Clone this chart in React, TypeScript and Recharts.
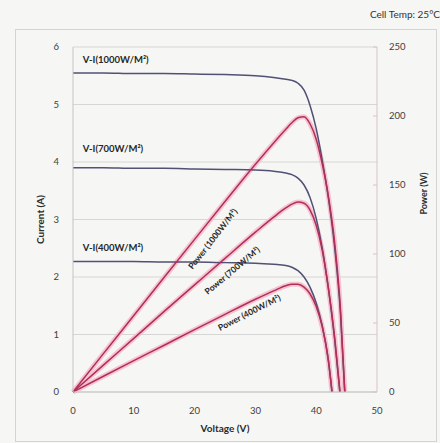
import React from 'react';
import { ComposedChart, Line, XAxis, YAxis, CartesianGrid, ReferenceDot, Label } from 'recharts';

const FONT = 'Lato, "Liberation Sans", sans-serif';

// axis ticks
const voltageTicks = [0, 10, 20, 30, 40, 50];
const currentTicks = [0, 1, 2, 3, 4, 5, 6];
const powerTicks = [0, 50, 100, 150, 200, 250];

// 1000 W/m2
const volts1000 = [0, 5, 10, 15, 20, 25, 30, 33, 35, 36, 37, 38, 39, 40, 41, 42, 43, 44, 44.7];
const amps1000 = [5.55, 5.55, 5.54, 5.54, 5.53, 5.52, 5.5, 5.47, 5.44, 5.42, 5.37, 5.25, 4.98, 4.58, 4.03, 3.38, 2.55, 1.35, 0];
const watts1000 = [0, 27.8, 55.4, 83.1, 110.6, 138, 165, 180.5, 190.4, 195.1, 198.7, 199.5, 194.2, 183.2, 165.2, 142, 109.7, 59.4, 0];

// 700 W/m2
const volts700 = [0, 5, 10, 15, 20, 25, 30, 33, 35, 36, 37, 38, 39, 40, 41, 42, 43, 43.9];
const amps700 = [3.9, 3.9, 3.89, 3.89, 3.88, 3.87, 3.86, 3.84, 3.81, 3.78, 3.72, 3.6, 3.38, 3.02, 2.5, 1.8, 0.95, 0];
const watts700 = [0, 19.5, 38.9, 58.4, 77.6, 96.8, 115.8, 126.7, 133.4, 136.1, 137.6, 136.8, 131.8, 120.8, 102.5, 75.6, 40.9, 0];

// 400 W/m2
const volts400 = [0, 5, 10, 15, 20, 25, 30, 33, 35, 36, 37, 38, 39, 40, 41, 42, 42.6];
const amps400 = [2.27, 2.27, 2.27, 2.26, 2.26, 2.25, 2.24, 2.22, 2.2, 2.17, 2.11, 2.0, 1.82, 1.55, 1.15, 0.55, 0];
const watts400 = [0, 11.4, 22.7, 33.9, 45.2, 56.3, 67.2, 73.3, 77, 78.1, 78.1, 76, 71, 62, 47.2, 23.1, 0];

const toRows = (v: number[], i: number[], p: number[]) => v.map((x, k) => ({ v: x, i: i[k], p: p[k] }));

const rows1000 = toRows(volts1000, amps1000, watts1000);
const rows700 = toRows(volts700, amps700, watts700);
const rows400 = toRows(volts400, amps400, watts400);

const CURRENT_COLOR = '#505174';
const POWER_COLOR = '#b02f5a';
const GLOW_COLOR = '#f6c3d0';

const curveLabel = (text: string, angle: number, anchor: 'start' | 'middle', size: number) => (props: any) => {
  const vb = props.viewBox || {};
  const x = (vb.x ?? 0) + (vb.width ?? 0) / 2;
  const y = (vb.y ?? 0) + (vb.height ?? 0) / 2;
  return (
    <text x={x} y={y} transform={`rotate(${angle} ${x} ${y})`} textAnchor={anchor} dominantBaseline="central"
      fontSize={size} fontWeight={700} fill="#262626" fontFamily={FONT}>
      {text}
    </text>
  );
};

const tickStyle = { fontSize: 9.5, fill: '#404040', fontFamily: FONT };

export default function App() {
  return (
    <div style={{ position: 'absolute', left: 0, top: 0, width: 440, height: 443, background: '#f6f6f4', fontFamily: FONT }}>
      <div style={{ position: 'absolute', right: 0, top: 8, fontSize: 10, color: '#333' }}>Cell Temp: 25°C</div>
      <div style={{ position: 'absolute', left: 15, top: 29, width: 420, height: 411, border: '1px solid #d4d4d4' }} />
      <div style={{ position: 'absolute', left: 0, top: 0 }}>
        <ComposedChart width={440} height={443} margin={{ top: 47, right: 0, bottom: 0, left: 0 }}>
          <CartesianGrid yAxisId="i" vertical={false} stroke="#d6d6d6" />
          <XAxis dataKey="v" type="number" domain={[0, 50]} ticks={voltageTicks} height={51}
            stroke="#c4c4c4" tickLine={false} tickSize={0} tickMargin={15} tick={tickStyle}>
            <Label content={(p: any) => (
              <text x={p.viewBox.x + p.viewBox.width / 2} y={p.viewBox.y + 36} textAnchor="middle" dominantBaseline="central"
                fontSize={10} fontWeight={700} fill="#2b2b2b" fontFamily={FONT}>Voltage (V)</text>
            )} />
          </XAxis>
          <YAxis yAxisId="i" orientation="left" domain={[0, 6]} ticks={currentTicks} width={73}
            stroke="#c4c4c4" tickLine={false} tickSize={0} tickMargin={14} tick={tickStyle}>
            <Label content={(p: any) => {
              const x = p.viewBox.x + 40;
              const y = p.viewBox.y + p.viewBox.height / 2;
              return (
                <text x={x} y={y} transform={`rotate(-90 ${x} ${y})`} textAnchor="middle" dominantBaseline="central"
                  fontSize={10} fontWeight={700} fill="#2b2b2b" fontFamily={FONT}>Current (A)</text>
              );
            }} />
          </YAxis>
          <YAxis yAxisId="p" orientation="right" domain={[0, 250]} ticks={powerTicks} width={63}
            stroke="#dcc2ca" tickSize={-4} tickMargin={16} tick={tickStyle}>
            <Label content={(p: any) => {
              const x = p.viewBox.x + 46;
              const y = p.viewBox.y + p.viewBox.height / 2 - 26;
              return (
                <text x={x} y={y} transform={`rotate(-90 ${x} ${y})`} textAnchor="middle" dominantBaseline="central"
                  fontSize={9} fontWeight={700} fill="#2b2b2b" fontFamily={FONT}>Power (W)</text>
              );
            }} />
          </YAxis>

          {/* pink halo under power curves */}
          <Line yAxisId="p" data={rows1000} dataKey="p" type="monotone" stroke={GLOW_COLOR} strokeWidth={5} dot={false} activeDot={false} isAnimationActive={false} legendType="none" />
          <Line yAxisId="p" data={rows700} dataKey="p" type="monotone" stroke={GLOW_COLOR} strokeWidth={5} dot={false} activeDot={false} isAnimationActive={false} legendType="none" />
          <Line yAxisId="p" data={rows400} dataKey="p" type="monotone" stroke={GLOW_COLOR} strokeWidth={5} dot={false} activeDot={false} isAnimationActive={false} legendType="none" />

          <Line yAxisId="i" data={rows1000} dataKey="i" type="monotone" stroke={CURRENT_COLOR} strokeWidth={1.5} dot={false} activeDot={false} isAnimationActive={false} />
          <Line yAxisId="i" data={rows700} dataKey="i" type="monotone" stroke={CURRENT_COLOR} strokeWidth={1.5} dot={false} activeDot={false} isAnimationActive={false} />
          <Line yAxisId="i" data={rows400} dataKey="i" type="monotone" stroke={CURRENT_COLOR} strokeWidth={1.5} dot={false} activeDot={false} isAnimationActive={false} />

          <Line yAxisId="p" data={rows1000} dataKey="p" type="monotone" stroke={POWER_COLOR} strokeWidth={1.5} dot={false} activeDot={false} isAnimationActive={false} />
          <Line yAxisId="p" data={rows700} dataKey="p" type="monotone" stroke={POWER_COLOR} strokeWidth={1.5} dot={false} activeDot={false} isAnimationActive={false} />
          <Line yAxisId="p" data={rows400} dataKey="p" type="monotone" stroke={POWER_COLOR} strokeWidth={1.5} dot={false} activeDot={false} isAnimationActive={false} />

          <ReferenceDot yAxisId="i" x={1.6} y={5.79} r={1} fill="none" stroke="none" label={curveLabel('V-I(1000W/M²)', 0, 'start', 9.5)} />
          <ReferenceDot yAxisId="i" x={1.6} y={4.23} r={1} fill="none" stroke="none" label={curveLabel('V-I(700W/M²)', 0, 'start', 9.5)} />
          <ReferenceDot yAxisId="i" x={1.6} y={2.52} r={1} fill="none" stroke="none" label={curveLabel('V-I(400W/M²)', 0, 'start', 9.5)} />

          <ReferenceDot yAxisId="p" x={23} y={111} r={1} fill="none" stroke="none" label={curveLabel('Power (1000W/M²)', -52, 'middle', 8.5)} />
          <ReferenceDot yAxisId="p" x={26.2} y={88} r={1} fill="none" stroke="none" label={curveLabel('Power (700W/M²)', -40, 'middle', 8.5)} />
          <ReferenceDot yAxisId="p" x={29} y={57.5} r={1} fill="none" stroke="none" label={curveLabel('Power (400W/M²)', -27, 'middle', 8.5)} />
        </ComposedChart>
      </div>
    </div>
  );
}
